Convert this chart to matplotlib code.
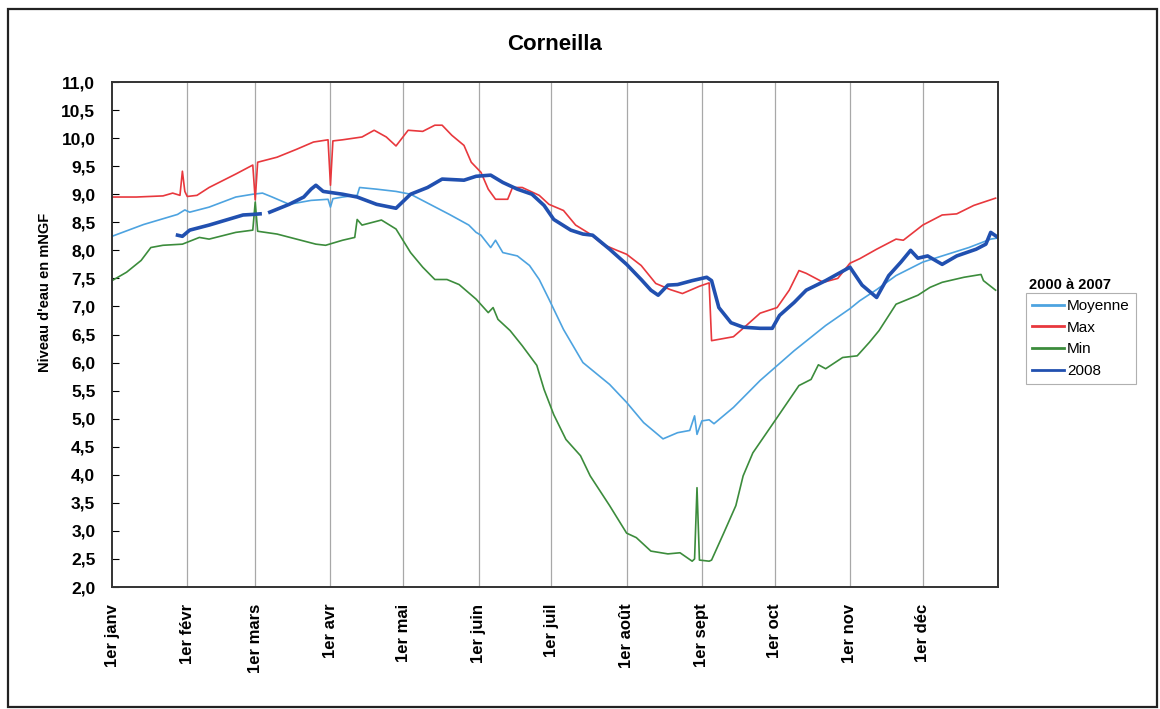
import numpy as np
import matplotlib
matplotlib.use("Agg")
import matplotlib.pyplot as plt
from matplotlib.patches import Rectangle
from matplotlib.ticker import FuncFormatter

# Piezometer Corneilla - day of year vs water level (mNGF)
month_days = [0, 31, 59, 90, 120, 151, 181, 212, 243, 273, 304, 334]
month_labels = ['1er janv', '1er févr', '1er mars', '1er avr', '1er mai', '1er juin',
                '1er juil', '1er août', '1er sept', '1er oct', '1er nov', '1er déc']

moy_days = [0, 13, 27, 30, 32, 40, 51, 58, 62, 66, 73, 82, 89, 90, 91, 95, 101, 102, 109,
            117, 123, 131, 139, 147, 150, 152, 156, 158, 161, 167, 172, 176, 180, 186, 194,
            205, 212, 219, 227, 233, 238, 240, 241, 243, 246, 248, 256, 267, 281, 294, 304,
            308, 315, 323, 334, 342, 353, 362, 365]
moy_vals = [8.25, 8.46, 8.64, 8.72, 8.68, 8.77, 8.95, 9.0, 9.02, 8.95, 8.82, 8.89, 8.91,
            8.77, 8.92, 8.95, 8.98, 9.12, 9.09, 9.05, 9.0, 8.82, 8.64, 8.45, 8.32, 8.27,
            8.05, 8.18, 7.96, 7.9, 7.73, 7.48, 7.13, 6.59, 6.0, 5.61, 5.29, 4.93, 4.64,
            4.75, 4.79, 5.05, 4.72, 4.96, 4.98, 4.91, 5.2, 5.68, 6.21, 6.66, 6.96, 7.1,
            7.3, 7.55, 7.79, 7.9, 8.05, 8.2, 8.22]

max_days = [0, 10, 21, 25, 28, 29, 30, 31, 35, 40, 51, 58, 59, 60, 68, 76, 83, 89, 90, 91,
            95, 103, 108, 113, 117, 122, 128, 133, 136, 140, 145, 148, 152, 155, 158, 163,
            165, 169, 176, 180, 186, 191, 197, 202, 208, 212, 218, 224, 230, 235, 242, 246,
            247, 256, 260, 267, 274, 279, 283, 286, 293, 299, 304, 308, 315, 323, 326, 334,
            342, 348, 355, 364]
max_vals = [8.95, 8.95, 8.97, 9.02, 8.98, 9.41, 9.05, 8.96, 8.98, 9.12, 9.36, 9.52, 8.9,
            9.57, 9.66, 9.8, 9.93, 9.97, 9.16, 9.95, 9.97, 10.02, 10.14, 10.02, 9.86, 10.14,
            10.12, 10.23, 10.23, 10.05, 9.87, 9.57, 9.39, 9.09, 8.91, 8.91, 9.12, 9.12, 8.98,
            8.82, 8.71, 8.45, 8.29, 8.11, 8.0, 7.93, 7.73, 7.41, 7.3, 7.23, 7.36, 7.42, 6.39,
            6.46, 6.61, 6.88, 6.98, 7.29, 7.64, 7.59, 7.43, 7.5, 7.77, 7.85, 8.02, 8.2, 8.18,
            8.45, 8.63, 8.65, 8.8, 8.93]

min_days = [0, 6, 12, 16, 21, 29, 36, 40, 51, 58, 59, 60, 68, 76, 84, 88, 95, 100, 101, 103,
            111, 117, 123, 128, 133, 138, 143, 150, 155, 157, 159, 164, 169, 175, 178, 182,
            187, 193, 197, 205, 212, 216, 222, 229, 234, 239, 240, 241, 242, 246, 247, 252,
            257, 260, 264, 274, 283, 288, 291, 294, 301, 307, 312, 316, 323, 332, 337, 342,
            351, 358, 359, 364]
min_vals = [7.46, 7.61, 7.82, 8.05, 8.09, 8.11, 8.23, 8.2, 8.32, 8.36, 8.86, 8.34, 8.29, 8.2,
            8.11, 8.09, 8.18, 8.23, 8.55, 8.45, 8.54, 8.38, 7.96, 7.7, 7.48, 7.48, 7.39, 7.13,
            6.89, 6.98, 6.77, 6.57, 6.3, 5.95, 5.52, 5.07, 4.63, 4.34, 3.98, 3.45, 2.96, 2.88,
            2.64, 2.59, 2.61, 2.46, 2.5, 3.77, 2.48, 2.46, 2.48, 2.96, 3.45, 3.98, 4.39, 5.02,
            5.59, 5.7, 5.96, 5.89, 6.09, 6.12, 6.36, 6.57, 7.04, 7.2, 7.34, 7.43, 7.52, 7.57,
            7.46, 7.29]

y2008_days = [27, 29, 32, 40, 47, 54, 58, 61, 62, 65, 73, 79, 82, 84, 87, 95, 101, 109, 117,
              123, 130, 136, 145, 150, 156, 161, 167, 173, 178, 182, 189, 194, 198, 205, 212,
              218, 222, 225, 229, 233, 239, 245, 247, 250, 255, 260, 267, 272, 275, 281, 286,
              294, 304, 309, 315, 320, 325, 329, 332, 336, 342, 348, 356, 360, 362, 365]
y2008_vals = [8.27, 8.25, 8.36, 8.45, 8.54, 8.63, 8.64, 8.65, np.nan, 8.68, 8.82, 8.95, 9.09,
              9.16, 9.05, 9.0, 8.95, 8.82, 8.75, 9.0, 9.12, 9.27, 9.25, 9.32, 9.34, 9.21, 9.09,
              9.0, 8.8, 8.55, 8.36, 8.29, 8.27, 8.02, 7.75, 7.48, 7.29, 7.2, 7.38, 7.39, 7.46,
              7.52, 7.46, 6.98, 6.71, 6.63, 6.61, 6.61, 6.84, 7.07, 7.29, 7.46, 7.7, 7.38, 7.16,
              7.55, 7.79, 8.0, 7.86, 7.9, 7.75, 7.9, 8.02, 8.11, 8.32, 8.23]

plt.rcParams['font.family'] = ['Liberation Sans', 'DejaVu Sans']

fig = plt.figure(figsize=(11.6, 7.09), dpi=100)
ax = fig.add_axes([112 / 1160, 1 - 587 / 709, 886 / 1160, 505 / 709])

# outer frame of the chart
fig.patches.append(Rectangle((8 / 1160, 2 / 709), 1149 / 1160, 698 / 709, transform=fig.transFigure,
                             fill=False, edgecolor='#222222', linewidth=1.6))

for d in month_days[1:]:
    ax.axvline(d, color='#a8a8a8', linewidth=0.9, zorder=0)

ax.plot(moy_days, moy_vals, color='#4da3e0', linewidth=1.2, label='Moyenne')
ax.plot(max_days, max_vals, color='#e8383d', linewidth=1.2, label='Max')
ax.plot(min_days, min_vals, color='#3c8c3c', linewidth=1.2, label='Min')
ax.plot(y2008_days, y2008_vals, color='#2150b0', linewidth=2.6, label='2008')

ax.set_xlim(0, 365)
ax.set_ylim(2.0, 11.0)
ax.set_yticks(np.arange(2.0, 11.01, 0.5))
ax.yaxis.set_major_formatter(FuncFormatter(lambda v, p: ('%.1f' % v).replace('.', ',')))
ax.set_xticks(month_days)
ax.set_xticklabels(month_labels, rotation=90, fontsize=12, fontweight='bold')
ax.tick_params(axis='x', length=0, pad=12)
ax.tick_params(axis='y', direction='in', length=5, pad=12, labelsize=12.5, width=0.8)
for lbl in ax.get_yticklabels():
    lbl.set_fontweight('bold')
for s in ax.spines.values():
    s.set_linewidth(1.4)
    s.set_color('#333333')

fig.text(45 / 1160, 1 - 292 / 709, "Niveau d'eau en mNGF", rotation=90, ha='center',
         va='center', fontsize=10.5, fontweight='bold')

fig.text(555 / 1160, 1 - 44 / 709, 'Corneilla', ha='center', va='center',
         fontsize=16, fontweight='bold')

fig.text(1029 / 1160, 1 - 285 / 709, '2000 à 2007', ha='left', va='center',
         fontsize=10.5, fontweight='bold')
leg = fig.legend(loc='upper left', bbox_to_anchor=(1026 / 1160, 1 - 293 / 709), fontsize=11,
                 handlelength=2.1, handletextpad=0.2, borderpad=0.4, labelspacing=0.5,
                 borderaxespad=0, fancybox=False, framealpha=1)
leg.get_frame().set_edgecolor('#b0b0b0')
leg.get_frame().set_linewidth(0.8)
for line in leg.get_lines():
    line.set_linewidth(2.0)

fig.savefig('out.png', dpi=100)
